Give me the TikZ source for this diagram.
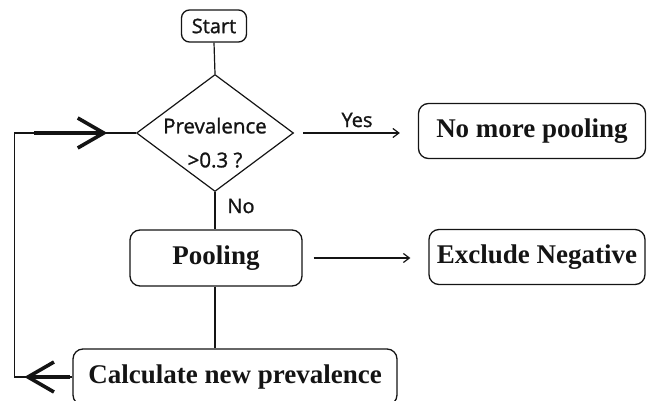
\documentclass[tikz,border=0pt]{standalone}
\usepackage{fontspec}
\setmainfont{Liberation Serif}
\newfontfamily\flowsans[FakeBold=1.2]{Open Sans}
\usepackage{tikz}
\usetikzlibrary{arrows.meta,positioning,calc,shapes.geometric}
\definecolor{ink}{RGB}{20,20,20}
\tikzset{
  stepbox/.style={draw=ink,line width=1.3pt,rounded corners=10pt,inner sep=0pt,
    font=\fontsize{27}{30}\selectfont\bfseries,text=ink},
  terminal/.style={draw=ink,line width=1.3pt,rounded corners=8pt,inner sep=0pt,
    minimum width=65pt,minimum height=32pt,font=\flowsans\fontsize{20}{22}\selectfont,text=ink},
  decision/.style={draw=ink,line width=1.2pt,diamond,aspect=1.34,inner sep=-12pt,
    minimum width=157pt,minimum height=117pt,align=center,text height=69pt,
    font=\flowsans\fontsize{20.5}{34}\selectfont,text=ink},
  link/.style={ink,line width=1.2pt},
  flow/.style={link,-{Straight Barb[length=6pt,width=9pt]}},
  loopflow/.style={ink,line width=3.6pt,-{Straight Barb[length=26pt,width=30pt]}},
  tag/.style={font=\flowsans\fontsize{20}{22}\selectfont,text=ink}
}

\begin{document}
\begin{tikzpicture}[x=1pt,y=-1pt]
  \useasboundingbox (0,0) rectangle (659,401);
  % boxes
  \node[terminal] (start) at (214,26) {Start};
  \node[decision] (prev) at (215,133) {Prevalence\\>0.3 ?};
  \node[stepbox,minimum width=227pt,minimum height=55pt] (nomore) at (532,131) {No more pooling};
  \node[stepbox,minimum width=172pt,minimum height=56pt] (pool) at (216,258) {Pooling};
  \node[stepbox,minimum width=216pt,minimum height=55pt] (excl) at (537,257) {Exclude Negative};
  \node[stepbox,minimum width=324pt,minimum height=56pt] (calc) at (235,377) {Calculate new prevalence};
  % labels
  \node[tag] (yes) at (357,120) {Yes};
  \node[tag] (no) at (241,206) {No};
  % connectors
  \draw[link] (start.south) -- (prev.north);
  \draw[flow,shorten <=9pt,shorten >=18pt] (prev.east) -- (prev.east -| nomore.west);
  \draw[link] (prev.south) -- (pool.north -| prev.south);
  \draw[flow,shorten <=11pt,shorten >=18pt] (pool.east) -- (pool.east -| excl.west);
  \draw[link] (pool.south -| prev.south) -- (calc.north -| prev.south);
  % loop back
  \path (calc.west) ++(-58,0) coordinate (loopbot);
  \path (loopbot |- prev.west) coordinate (looptop);
  \draw[link] (calc.west) -- (loopbot) -- (looptop) -- (prev.west);
  \draw[loopflow] ([xshift=-2pt]calc.west) -- ([xshift=10pt]loopbot);
  \draw[loopflow] ([xshift=20pt]looptop) -- ([xshift=93pt]looptop);
\end{tikzpicture}
\end{document}
